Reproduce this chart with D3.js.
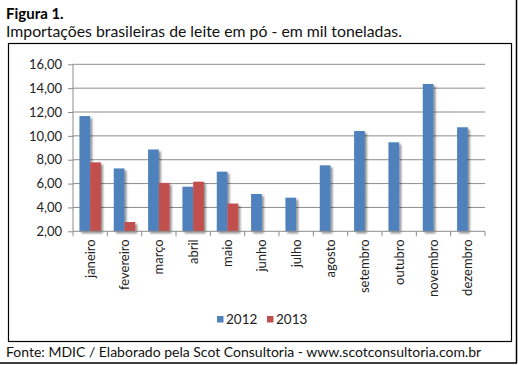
<!DOCTYPE html>
<html><head><meta charset="utf-8">
<script src="https://cdn.jsdelivr.net/npm/d3@7"></script>
<style>
html,body{margin:0;padding:0;background:#fff;}
svg{display:block;}
</style></head>
<body>
<script>
const months = ["janeiro","fevereiro","março","abril","maio","junho","julho","agosto","setembro","outubro","novembro","dezembro"];
const values2012 = [11.66, 7.27, 8.86, 5.74, 7.00, 5.13, 4.82, 7.53, 10.41, 9.46, 14.35, 10.72];
const values2013 = [7.78, 2.78, 6.06, 6.16, 4.33, null, null, null, null, null, null, null];
const seriesNames = ["2012", "2013"];
const seriesColors = ["#4F81BD", "#C0504D"];
const yTicks = [2, 4, 6, 8, 10, 12, 14, 16];
const titleText = "Figura 1.";
const subtitleText = "Importações brasileiras de leite em pó - em mil toneladas.";
const sourceText = "Fonte: MDIC / Elaborado pela Scot Consultoria - www.scotconsultoria.com.br";

const W = 518, H = 365;
const font = "Lato, 'Open Sans', sans-serif";
const svg = d3.select("body").append("svg").attr("width", W).attr("height", H);

const defs = svg.append("defs");
const f = defs.append("filter").attr("id","sh").attr("x","-30%").attr("y","-10%").attr("width","180%").attr("height","130%");
f.append("feGaussianBlur").attr("in","SourceAlpha").attr("stdDeviation",1.3).attr("result","b");
f.append("feOffset").attr("in","b").attr("dx",2.2).attr("dy",1.5).attr("result","o");
f.append("feComponentTransfer").attr("in","o").attr("result","o2")
  .append("feFuncA").attr("type","linear").attr("slope",0.45);
const m = f.append("feMerge");
m.append("feMergeNode").attr("in","o2");
m.append("feMergeNode").attr("in","SourceGraphic");

// outer page border (right & bottom)
svg.append("line").attr("x1",516.5).attr("x2",516.5).attr("y1",0).attr("y2",363).attr("stroke","#000").attr("stroke-width",1.5);
svg.append("line").attr("x1",0).attr("x2",517).attr("y1",363).attr("y2",363).attr("stroke","#000").attr("stroke-width",1.5);

svg.append("text").attr("x",6).attr("y",19).attr("font-family",font).attr("font-weight","bold")
  .attr("font-size",15).attr("fill","#000").text(titleText);
svg.append("text").attr("x",6).attr("y",37).attr("font-family",font)
  .attr("font-size",15.8).attr("fill","#111").text(subtitleText);

// chart box
svg.append("rect").attr("x",8.5).attr("y",43.5).attr("width",503).attr("height",298)
  .attr("fill","#fff").attr("stroke","#000").attr("stroke-width",1.2);

svg.append("text").attr("x",6).attr("y",357).attr("font-family",font)
  .attr("font-size",14).attr("fill","#111").text(sourceText);

const plot = {l:73, r:485, t:64.3, b:231.3};
const x = d3.scaleBand().domain(months).range([plot.l, plot.r]).paddingInner(0).paddingOuter(0);
const inner = d3.scaleBand().domain(seriesNames).range([0, x.bandwidth()]).paddingInner(0).paddingOuter(0.6);
const y = d3.scaleLinear().domain([2,16]).range([plot.b, plot.t]);

// gridlines
svg.append("g").selectAll("line").data(yTicks.filter(d=>d>2)).join("line")
  .attr("x1",plot.l).attr("x2",plot.r).attr("y1",d=>y(d)).attr("y2",d=>y(d))
  .attr("stroke","#8c8c8c").attr("stroke-width",1);

// y axis
const yAxis = svg.append("g").attr("transform",`translate(${plot.l},0)`)
  .call(d3.axisLeft(y).tickValues(yTicks).tickSize(5).tickPadding(6)
        .tickFormat(d => d3.format(".2f")(d).replace(".", ",")));
yAxis.selectAll("path,line").attr("stroke","#8c8c8c");
yAxis.select(".domain").attr("d",`M0,${plot.t}V${plot.b}`);
yAxis.selectAll("text").attr("font-family",font).attr("font-size",13).attr("fill","#222");

// bars
const series = [values2012, values2013];
const barsG = svg.append("g").attr("filter","url(#sh)");
series.forEach((vals, si) => {
  barsG.append("g").selectAll("rect").data(months.map((mo,i)=>({mo, v: vals[i]})).filter(d=>d.v!=null)).join("rect")
    .attr("x", d => x(d.mo) + inner(seriesNames[si]))
    .attr("width", inner.bandwidth())
    .attr("y", d => y(d.v))
    .attr("height", d => y(2) - y(d.v))
    .attr("fill", seriesColors[si]);
});

// x axis
const xg = svg.append("g").attr("transform",`translate(0,${plot.b})`);
xg.append("line").attr("x1",plot.l).attr("x2",plot.r).attr("stroke","#8c8c8c");
const bounds = d3.range(months.length+1).map(i => plot.l + i*x.step());
xg.selectAll("line.t").data(bounds).join("line").attr("class","t")
  .attr("x1",d=>d).attr("x2",d=>d).attr("y1",0).attr("y2",5).attr("stroke","#8c8c8c");
xg.selectAll("text").data(months).join("text")
  .attr("transform", d => `translate(${x(d)+x.bandwidth()/2+4.5},8) rotate(-90)`)
  .attr("text-anchor","end").attr("font-family",font).attr("font-size",13).attr("fill","#222")
  .text(d=>d);

// legend
const leg = svg.append("g");
const legX = [217, 267];
seriesNames.forEach((s,i)=>{
  leg.append("rect").attr("x",legX[i]).attr("y",316).attr("width",6.5).attr("height",6.5).attr("fill",seriesColors[i]);
  leg.append("text").attr("x",legX[i]+9).attr("y",323.5).attr("font-family",font).attr("font-size",13.5).attr("fill","#222").text(s);
});
</script>
</body></html>
